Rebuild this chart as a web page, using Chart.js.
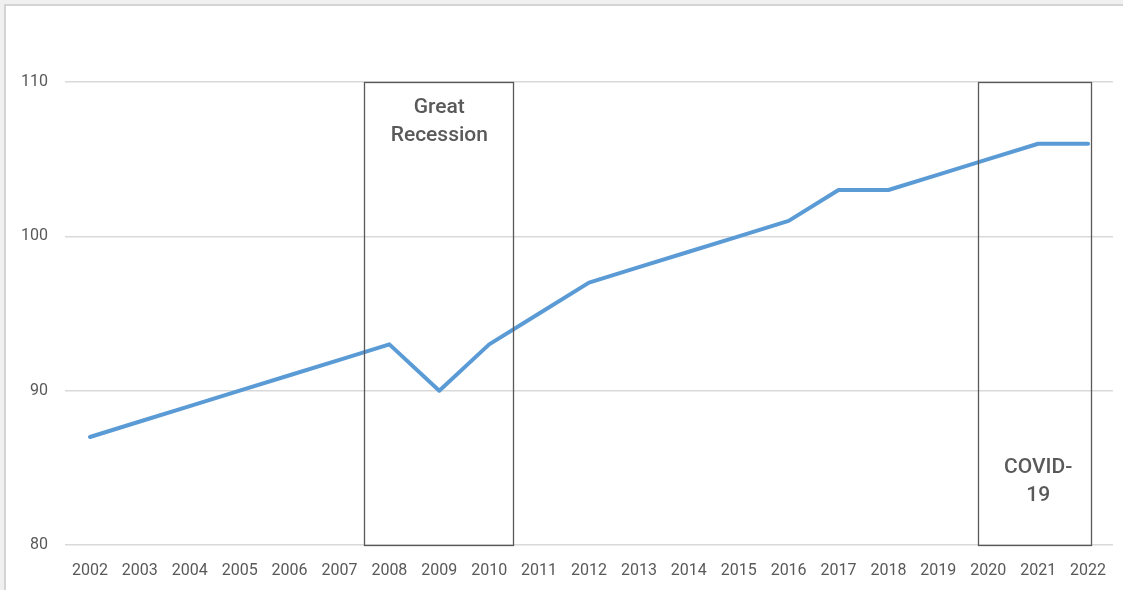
<!DOCTYPE html>
<html>
<head>
<meta charset="utf-8">
<script src="https://cdn.jsdelivr.net/npm/chart.js@4.4.0/dist/chart.umd.min.js"></script>
<style>
  html, body { margin: 0; padding: 0; background: #f0f0f0; overflow: hidden; }
  #frame { position: absolute; left: 4px; top: 4px; width: 1200px; height: 700px; background: #fff;
           border-left: 2px solid #d4d4d4; border-top: 2px solid #d4d4d4; }
  #c { position: absolute; left: 0; top: 0; }
</style>
</head>
<body>
<div id="frame"></div>
<canvas id="c" width="1123" height="590"></canvas>
<script>
// ---- data ----
const years = ['2002','2003','2004','2005','2006','2007','2008','2009','2010','2011','2012','2013','2014','2015','2016','2017','2018','2019','2020','2021','2022'];
const values = [87, 88, 89, 90, 91, 92, 93, 90, 93, 95, 97, 98, 99, 100, 101, 103, 103, 104, 105, 106, 106];
const yTickValues = [80, 90, 100, 110];
const periodNames = [['Great', 'Recession'], ['COVID-', '19']];
const periodStart = [2007.5, 2019.8];
const periodEnd = [2010.48, 2022.06];

const firstYear = Number(years[0]);

const periodPlugin = {
  id: 'periods',
  afterDatasetsDraw(chart) {
    const { ctx, scales: { x, y } } = chart;
    const top = y.getPixelForValue(yTickValues[yTickValues.length - 1]);
    const bottom = y.getPixelForValue(yTickValues[0]);
    const labelY = [108.3, 85.0];
    const labelX = [2009, 2021];
    ctx.save();
    for (let i = 0; i < periodStart.length; i++) {
      const x0 = x.getPixelForValue(periodStart[i] - firstYear);
      const x1 = x.getPixelForValue(periodEnd[i] - firstYear);
      ctx.strokeStyle = '#595959';
      ctx.lineWidth = 1.3;
      ctx.strokeRect(Math.round(x0) + 0.5, Math.round(top) + 0.5, Math.round(x1 - x0), Math.round(bottom - top));
      ctx.fillStyle = '#595959';
      ctx.font = '500 21px Roboto, "Liberation Sans", Arial, sans-serif';
      ctx.textAlign = 'center';
      ctx.textBaseline = 'middle';
      const cx = x.getPixelForValue(labelX[i] - firstYear);
      const cy = y.getPixelForValue(labelY[i]);
      periodNames[i].forEach((t, j) => ctx.fillText(t, cx, cy + j * 28));
    }
    ctx.restore();
  }
};

new Chart(document.getElementById('c'), {
  type: 'line',
  data: {
    labels: years,
    datasets: [{
      data: values,
      borderColor: '#5b9bd5',
      borderWidth: 4,
      borderCapStyle: 'round',
      borderJoinStyle: 'round',
      pointRadius: 0,
      tension: 0,
      fill: false
    }]
  },
  options: {
    responsive: false,
    animation: false,
    layout: { padding: { top: 82, right: 10, left: 0, bottom: 0 } },
    plugins: { legend: { display: false }, tooltip: { enabled: false } },
    scales: {
      x: {
        offset: true,
        grid: { display: false, drawTicks: false },
        border: { display: false },
        ticks: { color: '#595959', font: { family: 'Roboto', size: 16 }, padding: 16, maxRotation: 0, autoSkip: false },
        afterFit(s) { s.height = 45; }
      },
      y: {
        min: 80, max: 110,
        afterBuildTicks(s) { s.ticks = yTickValues.map(v => ({ value: v })); },
        grid: { color: '#d9d9d9', lineWidth: 1.5, drawTicks: false },
        border: { display: false },
        ticks: { color: '#595959', font: { family: 'Roboto', size: 16 }, padding: 17 },
        afterFit(s) { s.width = 65; }
      }
    }
  },
  plugins: [periodPlugin]
});
</script>
</body>
</html>
